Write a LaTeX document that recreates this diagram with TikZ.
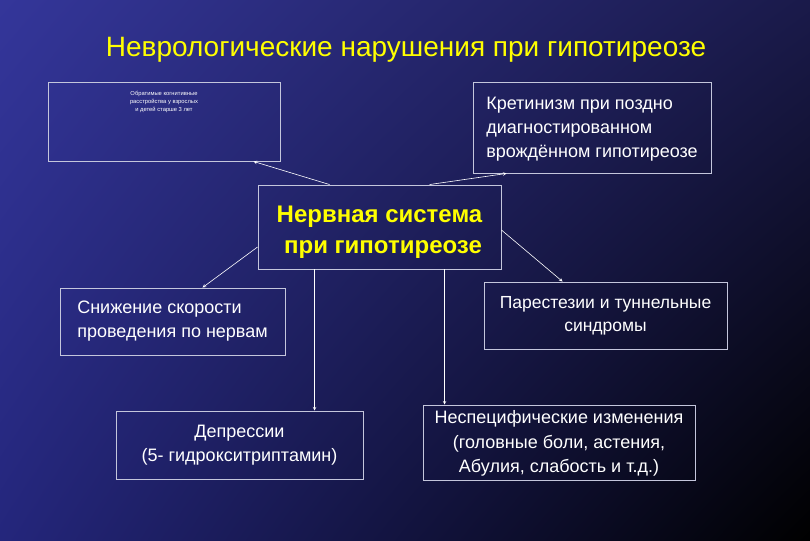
\documentclass[tikz,border=0pt]{standalone}
\usepackage{fontspec}
\setmainfont{Liberation Sans}
\usetikzlibrary{arrows, positioning, calc, shadings}
\definecolor{bgtl}{RGB}{52,54,154}
\definecolor{bgtr}{RGB}{26,26,74}
\definecolor{bgbl}{RGB}{36,38,124}
\definecolor{bgbr}{RGB}{0,0,0}
\definecolor{frame}{RGB}{196,198,220}
\definecolor{titleyellow}{RGB}{255,255,0}

\begin{document}
\begin{tikzpicture}[
			x=1pt, y=-1pt,
			box/.style={rectangle, draw=frame, line width=0.9pt, inner sep=0pt, text=white, font=\fontsize{18}{24}\selectfont},
			mainbox/.style={rectangle, draw=frame, line width=0.9pt, inner sep=0pt, text=titleyellow, font=\fontsize{24}{31}\selectfont\bfseries, align=center},
			arrow/.style={->, >=stealth, draw=white, line width=0.6pt}
			]
			
			% Background
			\shade[upper left=bgtl, upper right=bgtr, lower left=bgbl, lower right=bgbr] (0,0) rectangle (810,540);
			
			% Title
			\node[text=titleyellow, font=\fontsize{28}{32}\selectfont] (title) at (406,49.5) {Неврологические нарушения при гипотиреозе};
			
			% Central node
			\node[mainbox, minimum width=243, minimum height=84] (ns) at (379.5,227) {\rule{0pt}{27.5pt}Нервная система\\ \hspace*{7pt}при гипотиреозе};
			
			% Outer nodes
			\node[box, minimum width=232, minimum height=79] (cog) at (164,121.5) {\parbox[t][72pt][t]{120pt}{\centering\fontsize{5.8}{8}\selectfont\vspace{6pt}Обратимые когнитивные\\ расстройства у взрослых\\ и детей старше 3 лет}};
			\node[box, align=left, minimum width=238, minimum height=91] (kret) at (592,127.5) {\rule{0pt}{15pt}Кретинизм при поздно\\ диагностированном\\ врождённом гипотиреозе};
			\node[box, align=left, minimum width=225, minimum height=67] (cond) at (172.5,321.5) {Снижение скорости\\ проведения по нервам};
			\node[box, align=center, minimum width=243, minimum height=67, font=\fontsize{17.5}{23}\selectfont] (par) at (605.5,315.5) {Парестезии и туннельные\\ синдромы};
			\node[box, align=center, minimum width=247, minimum height=68] (dep) at (239.5,445) {Депрессии\\ (5- гидрокситриптамин)};
			\node[box, align=center, minimum width=272, minimum height=75, font=\fontsize{18}{24.5}\selectfont] (nonspec) at (559,442.5) {\rule{0pt}{15pt}Неспецифические изменения\\ (головные боли, астения,\\ Абулия, слабость и т.д.)};
			
			% Arrows
			\draw[arrow] ([xshift=72pt]ns.north west) -- ([xshift=-27pt]cog.south east);
			\draw[arrow] ([xshift=172pt]ns.north west) -- ([xshift=34pt]kret.south west);
			\draw[arrow] ([yshift=-20pt]ns.west) -- ([xshift=143pt]cond.north west);
			\draw[arrow] ([yshift=-3pt]ns.east) -- ([xshift=79pt]par.north west);
			\draw[arrow] ([xshift=57pt]ns.south west) -- ([xshift=57pt]ns.south west |- dep.north);
			\draw[arrow] ([xshift=187pt]ns.south west) -- ([xshift=187pt]ns.south west |- nonspec.north);
			
		\end{tikzpicture}
\end{document}
